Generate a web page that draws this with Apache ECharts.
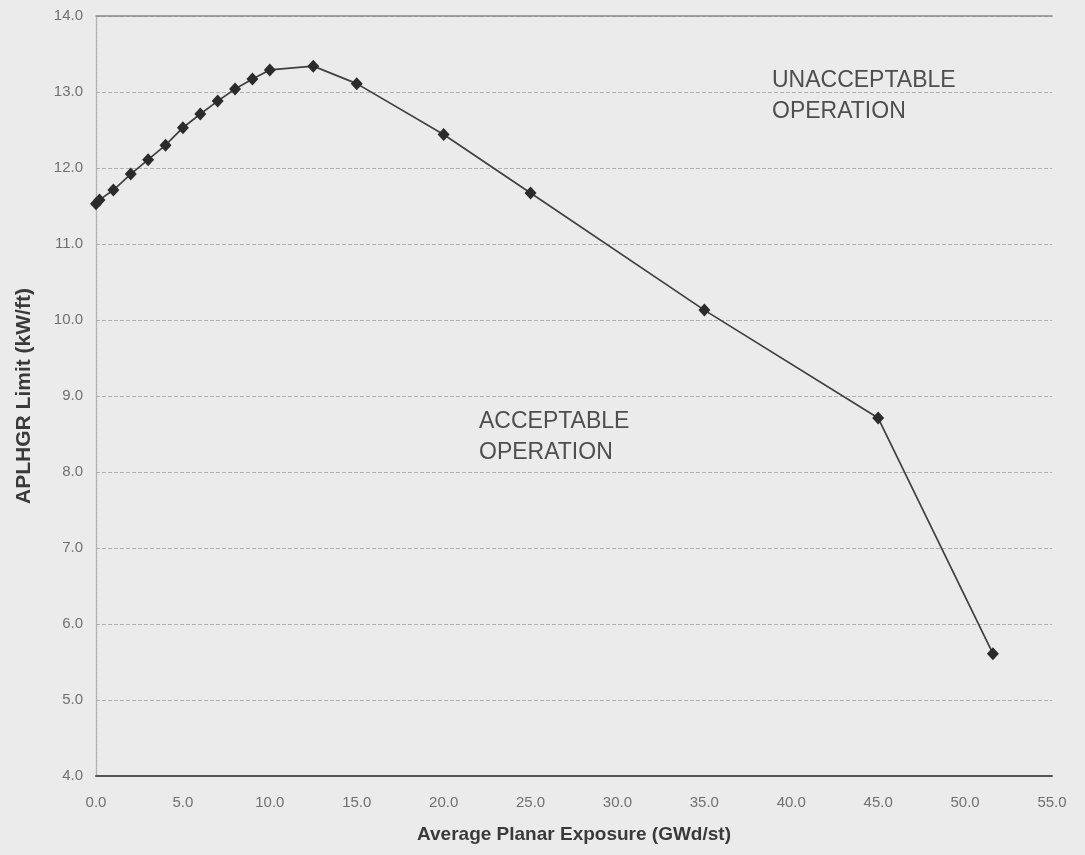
<!DOCTYPE html>
<html>
<head>
<meta charset="utf-8">
<script src="https://cdn.jsdelivr.net/npm/echarts@6/dist/echarts.min.js"></script>
<style>
html,body{margin:0;padding:0;background:#ebebeb;}
#chart{width:1085px;height:855px;}
</style>
</head>
<body>
<div id="chart"></div>
<script>
// Data
var exposure = [0.0, 0.2, 1.0, 2.0, 3.0, 4.0, 5.0, 6.0, 7.0, 8.0, 9.0, 10.0, 12.5, 15.0, 20.0, 25.0, 35.0, 45.0, 51.6];
var aplhgr   = [11.53, 11.58, 11.71, 11.92, 12.11, 12.30, 12.53, 12.71, 12.88, 13.04, 13.17, 13.29, 13.34, 13.11, 12.44, 11.67, 10.13, 8.71, 5.61];
var xTicks = ['0.0','5.0','10.0','15.0','20.0','25.0','30.0','35.0','40.0','45.0','50.0','55.0'];
var yTicks = ['4.0','5.0','6.0','7.0','8.0','9.0','10.0','11.0','12.0','13.0','14.0'];
var annotations = [
  {lines:['UNACCEPTABLE','OPERATION']},
  {lines:['ACCEPTABLE','OPERATION']}
];

var points = exposure.map(function(x,i){return [x, aplhgr[i]];});
var chart = echarts.init(document.getElementById('chart'));
var font = '"Liberation Sans", Arial, sans-serif';

function fmtX(v){ var i = Math.round(v/5); return xTicks[i] !== undefined ? xTicks[i] : ''; }
function fmtY(v){ var i = Math.round(v-4); return yTicks[i] !== undefined ? yTicks[i] : ''; }

chart.setOption({
  backgroundColor:'#ebebeb',
  animation:false,
  grid:{left:96, right:33, top:16, bottom:79},
  xAxis:[{
    type:'value', min:0, max:55, interval:5,
    name:'Average Planar Exposure (GWd/st)', nameLocation:'middle', nameGap:49,
    nameTextStyle:{fontFamily:font, fontSize:19, fontWeight:'bold', color:'#3a3a3a'},
    axisLine:{show:true, lineStyle:{color:'#555', width:2}},
    axisTick:{show:false},
    axisLabel:{formatter:fmtX, fontFamily:font, fontSize:15, color:'#707070', margin:19},
    splitLine:{show:false}
  },{
    type:'value', min:0, max:55, position:'top',
    axisLine:{show:true, lineStyle:{color:'#8a8a8a', width:1.5}},
    axisTick:{show:false}, axisLabel:{show:false}, splitLine:{show:false}
  }],
  yAxis:[{
    type:'value', min:4, max:14, interval:1,
    name:'APLHGR Limit (kW/ft)', nameLocation:'middle', nameGap:61,
    nameTextStyle:{fontFamily:font, fontSize:21, fontWeight:'bold', color:'#3a3a3a'},
    axisLine:{show:true, lineStyle:{color:'#8a8a8a', width:1.2}},
    axisTick:{show:false},
    axisLabel:{formatter:fmtY, fontFamily:font, fontSize:15, color:'#707070', margin:13},
    splitLine:{show:true, lineStyle:{color:'#b0b0b0', width:1, type:[4,2]}}
  },{
    type:'value', min:4, max:14, position:'right',
    axisLine:{show:true, lineStyle:{color:'#bdbdbd', width:1, type:'dotted'}},
    axisTick:{show:false}, axisLabel:{show:false}, splitLine:{show:false}
  }],
  graphic:[
    {type:'text', left:772, top:69, style:{text:annotations[0].lines[0], font:'23px '+font, fill:'#4e4e4e'}},
    {type:'text', left:772, top:100, style:{text:annotations[0].lines[1], font:'23px '+font, fill:'#4e4e4e'}},
    {type:'text', left:479, top:410, style:{text:annotations[1].lines[0], font:'23px '+font, fill:'#4e4e4e'}},
    {type:'text', left:479, top:441, style:{text:annotations[1].lines[1], font:'23px '+font, fill:'#4e4e4e'}}
  ],
  series:[{
    type:'line', data:points, xAxisIndex:0, yAxisIndex:0,
    symbol:'diamond', symbolSize:[12,13],
    itemStyle:{color:'#2b2b2b'},
    lineStyle:{color:'#404040', width:1.7},
    silent:true
  }]
});
</script>
</body>
</html>
